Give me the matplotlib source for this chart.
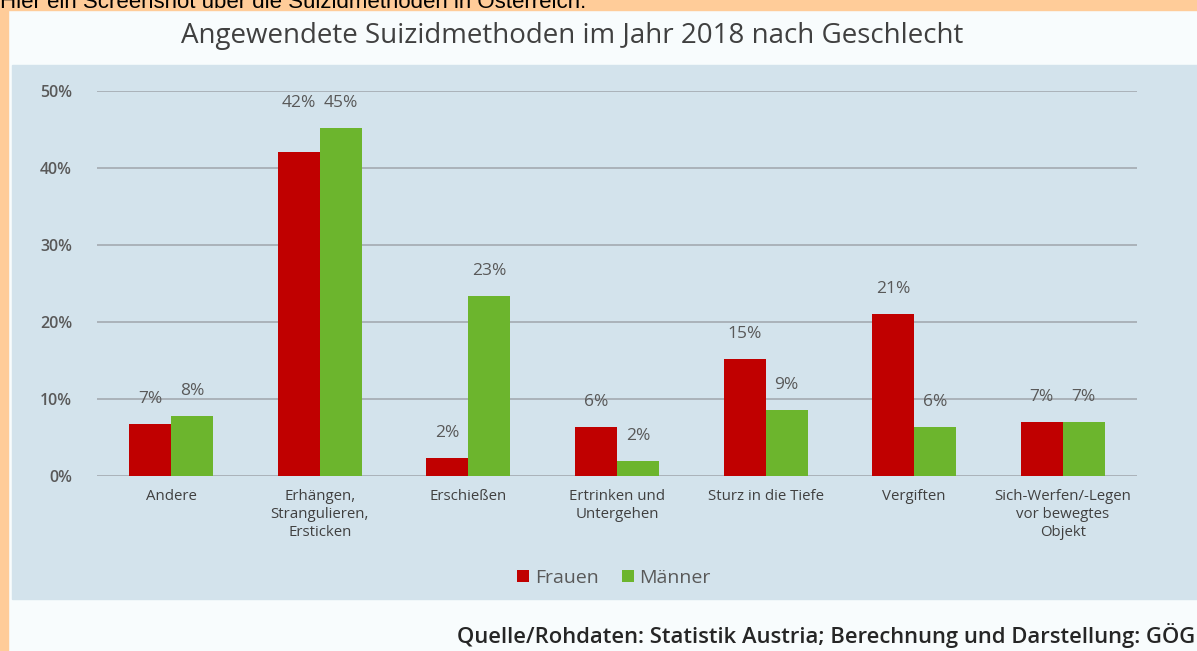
import matplotlib
matplotlib.use("Agg")
import matplotlib.pyplot as plt
from matplotlib.patches import Rectangle
import numpy as np

# data (share of suicides by method, 2018, in %)
categories = ["Andere", "Erhängen,\nStrangulieren,\nErsticken", "Erschießen",
              "Ertrinken und\nUntergehen", "Sturz in die Tiefe", "Vergiften",
              "Sich-Werfen/-Legen\nvor bewegtes\nObjekt"]
frauen = [6.8, 42.1, 2.4, 6.3, 15.2, 21.0, 7.0]
maenner = [7.8, 45.2, 23.4, 1.9, 8.6, 6.4, 7.0]
yticks = [0, 10, 20, 30, 40, 50]

red = '#C00000'
green = '#6CB52D'
txt = '#595959'

W, H = 1197, 651
fig = plt.figure(figsize=(W / 100, H / 100), dpi=100)
fig.patch.set_facecolor('#F8FCFD')

def px_rect(x0, y0, x1, y1, color):
    # rectangle in pixel coords (origin top-left)
    fig.patches.append(Rectangle((x0 / W, 1 - y1 / H), (x1 - x0) / W, (y1 - y0) / H,
                                 transform=fig.transFigure, color=color, zorder=-10))

# orange frame of the screenshot, then light blue chart panel
px_rect(0, 0, W, 10, '#FFCC99')
px_rect(0, 0, 8, H, '#FFCC99')
px_rect(12, 65, W, 599, '#D3E3EC')

# caption of the screenshot, cut off at the top edge like in the original
fig.text(0, 1 - 8 / H, "Hier ein Screenshot über die Suizidmethoden in Österreich.",
         family='Liberation Sans', fontsize=16, color='black', va='baseline', ha='left')

fig.text(572 / W, 1 - 36 / H, "Angewendete Suizidmethoden im Jahr 2018 nach Geschlecht",
         family='Open Sans', fontsize=20, color='#404040', ha='center', va='center')

ax = fig.add_axes([97 / W, 1 - 476 / H, (1137 - 97) / W, (476 - 91) / H])
ax.set_facecolor('none')
x = np.arange(len(categories))
bw = 0.283
ax.bar(x - bw / 2, frauen, bw, color=red, label='Frauen', zorder=3)
ax.bar(x + bw / 2, maenner, bw, color=green, label='Männer', zorder=3)

ax.set_xlim(-0.5, len(categories) - 0.5)
ax.set_ylim(0, 50)
ax.set_yticks(yticks)
ax.set_yticklabels([f"{t}%" for t in yticks], family='Open Sans', fontsize=11.5,
                   fontweight='semibold', color=txt)
ax.yaxis.grid(True, color='#A3AAB0', linewidth=1.2)
ax.set_axisbelow(True)
for s in ax.spines.values():
    s.set_visible(False)
ax.tick_params(axis='y', length=0, pad=18)
ax.tick_params(axis='x', length=0, pad=9)
ax.set_xticks(x)
ax.set_xticklabels(categories, family='Open Sans', fontsize=10.8, color='#404040',
                   linespacing=1.3, va='top')

# data labels
for i in range(len(categories)):
    f, m = frauen[i], maenner[i]
    yf = f
    if abs(f - m) < 4 and max(f, m) > 30:
        yf = max(f, m)  # labels sit side by side when bars are close
    ax.annotate(f"{round(f)}%", (i - bw / 2, yf), xytext=(0, 18), textcoords='offset points',
                ha='center', va='center', family='Open Sans', fontsize=12.5, color=txt)
    ax.annotate(f"{round(m)}%", (i + bw / 2, m), xytext=(0, 18), textcoords='offset points',
                ha='center', va='center', family='Open Sans', fontsize=12.5, color=txt)

leg = fig.legend(loc='center', bbox_to_anchor=(614 / W, 1 - 578 / H), ncol=2, frameon=False,
                 prop={'family': 'Open Sans', 'size': 14}, handlelength=0.6, handleheight=0.6,
                 handletextpad=0.3, columnspacing=1.2)
for t in leg.get_texts():
    t.set_color(txt)

fig.text(1195 / W, 1 - 636 / H, "Quelle/Rohdaten: Statistik Austria; Berechnung und Darstellung: GÖG",
         family='Open Sans', fontweight='semibold', fontsize=15.8, color='#262626',
         ha='right', va='center')

fig.savefig('out.png', dpi=100, facecolor=fig.get_facecolor())
